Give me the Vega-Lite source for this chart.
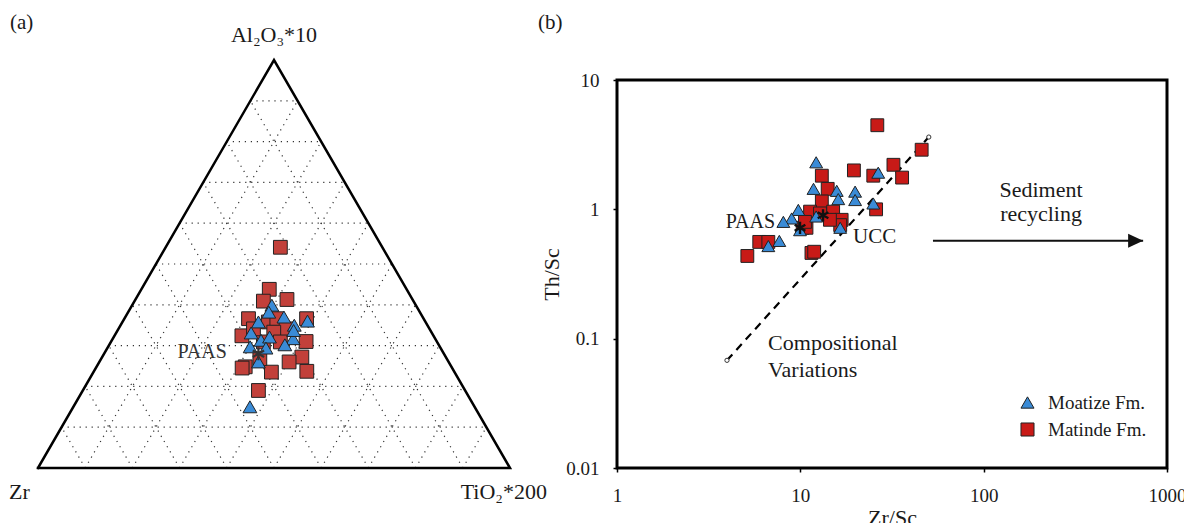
{
  "$schema": "https://vega.github.io/schema/vega-lite/v6.json",
  "padding": {"left": 0, "top": 10, "right": 0, "bottom": 0},
  "autosize": {"type": "pad"},
  "background": "white",
  "spacing": 69,
  "bounds": "flush",
  "config": {
    "view": {"stroke": null},
    "font": "Liberation Serif",
    "text": {"font": "Liberation Serif", "color": "#1a1a1a"},
    "legend": {"labelFont": "Liberation Serif", "labelFontSize": 19, "labelColor": "#1a1a1a", "symbolStrokeColor": "#222", "symbolStrokeWidth": 1, "rowPadding": 7, "labelOffset": 11, "padding": 0}
  },
  "datasets": {
    "grid": [
      {"x": 5, "y": 10, "xe": 95, "ye": 10}, {"x": 10, "y": 20, "xe": 90, "ye": 20}, {"x": 15, "y": 30, "xe": 85, "ye": 30},
      {"x": 20, "y": 40, "xe": 80, "ye": 40}, {"x": 25, "y": 50, "xe": 75, "ye": 50}, {"x": 30, "y": 60, "xe": 70, "ye": 60},
      {"x": 35, "y": 70, "xe": 65, "ye": 70}, {"x": 40, "y": 80, "xe": 60, "ye": 80}, {"x": 45, "y": 90, "xe": 55, "ye": 90},
      {"x": 10, "y": 0, "xe": 55, "ye": 90}, {"x": 20, "y": 0, "xe": 60, "ye": 80}, {"x": 30, "y": 0, "xe": 65, "ye": 70},
      {"x": 40, "y": 0, "xe": 70, "ye": 60}, {"x": 50, "y": 0, "xe": 75, "ye": 50}, {"x": 60, "y": 0, "xe": 80, "ye": 40},
      {"x": 70, "y": 0, "xe": 85, "ye": 30}, {"x": 80, "y": 0, "xe": 90, "ye": 20}, {"x": 90, "y": 0, "xe": 95, "ye": 10},
      {"x": 90, "y": 0, "xe": 45, "ye": 90}, {"x": 80, "y": 0, "xe": 40, "ye": 80}, {"x": 70, "y": 0, "xe": 35, "ye": 70},
      {"x": 60, "y": 0, "xe": 30, "ye": 60}, {"x": 50, "y": 0, "xe": 25, "ye": 50}, {"x": 40, "y": 0, "xe": 20, "ye": 40},
      {"x": 30, "y": 0, "xe": 15, "ye": 30}, {"x": 20, "y": 0, "xe": 10, "ye": 20}, {"x": 10, "y": 0, "xe": 5, "ye": 10}
    ],
    "outline": [
      {"x": 0, "y": 0, "i": 0}, {"x": 50, "y": 100, "i": 1}, {"x": 100, "y": 0, "i": 2}, {"x": 0, "y": 0, "i": 3}
    ],
    "tern": [
      {"fm": "Matinde Fm.", "al": 54.1, "ti": 24.3, "zr": 21.6},
      {"fm": "Matinde Fm.", "al": 43.8, "ti": 27.1, "zr": 29.1},
      {"fm": "Matinde Fm.", "al": 40.9, "ti": 27.3, "zr": 31.8},
      {"fm": "Matinde Fm.", "al": 41.3, "ti": 32.1, "zr": 26.6},
      {"fm": "Matinde Fm.", "al": 36.6, "ti": 26.3, "zr": 37.1},
      {"fm": "Matinde Fm.", "al": 36.6, "ti": 38.6, "zr": 24.8},
      {"fm": "Matinde Fm.", "al": 35.8, "ti": 30.9, "zr": 33.3},
      {"fm": "Matinde Fm.", "al": 36.6, "ti": 32.3, "zr": 31.1},
      {"fm": "Matinde Fm.", "al": 34.1, "ti": 35.5, "zr": 30.4},
      {"fm": "Matinde Fm.", "al": 32.4, "ti": 27.0, "zr": 40.6},
      {"fm": "Matinde Fm.", "al": 33.3, "ti": 33.3, "zr": 33.4},
      {"fm": "Matinde Fm.", "al": 31.0, "ti": 41.3, "zr": 27.7},
      {"fm": "Matinde Fm.", "al": 30.9, "ti": 32.3, "zr": 36.8},
      {"fm": "Matinde Fm.", "al": 27.2, "ti": 42.3, "zr": 30.5},
      {"fm": "Matinde Fm.", "al": 26.0, "ti": 40.2, "zr": 33.8},
      {"fm": "Matinde Fm.", "al": 23.7, "ti": 45.1, "zr": 31.2},
      {"fm": "Matinde Fm.", "al": 23.5, "ti": 37.7, "zr": 38.8},
      {"fm": "Matinde Fm.", "al": 24.8, "ti": 31.5, "zr": 43.7},
      {"fm": "Matinde Fm.", "al": 24.5, "ti": 31.0, "zr": 44.5},
      {"fm": "Matinde Fm.", "al": 19.0, "ti": 37.2, "zr": 43.8},
      {"fm": "Matinde Fm.", "al": 26.8, "ti": 33.6, "zr": 39.6},
      {"fm": "Matinde Fm.", "al": 30.9, "ti": 35.9, "zr": 33.2},
      {"fm": "Matinde Fm.", "al": 34.1, "ti": 28.6, "zr": 37.3},
      {"fm": "Moatize Fm.", "al": 39.9, "ti": 29.6, "zr": 30.5},
      {"fm": "Moatize Fm.", "al": 38.2, "ti": 29.8, "zr": 32.0},
      {"fm": "Moatize Fm.", "al": 37.0, "ti": 33.6, "zr": 29.4},
      {"fm": "Moatize Fm.", "al": 35.0, "ti": 36.8, "zr": 28.2},
      {"fm": "Moatize Fm.", "al": 36.0, "ti": 39.1, "zr": 24.9},
      {"fm": "Moatize Fm.", "al": 35.8, "ti": 28.8, "zr": 35.4},
      {"fm": "Moatize Fm.", "al": 33.1, "ti": 28.6, "zr": 38.3},
      {"fm": "Moatize Fm.", "al": 31.3, "ti": 31.6, "zr": 37.1},
      {"fm": "Moatize Fm.", "al": 32.1, "ti": 33.0, "zr": 34.9},
      {"fm": "Moatize Fm.", "al": 31.7, "ti": 38.2, "zr": 30.1},
      {"fm": "Moatize Fm.", "al": 30.2, "ti": 37.2, "zr": 32.6},
      {"fm": "Moatize Fm.", "al": 29.7, "ti": 30.1, "zr": 40.2},
      {"fm": "Moatize Fm.", "al": 29.4, "ti": 33.6, "zr": 37.0},
      {"fm": "Moatize Fm.", "al": 26.0, "ti": 33.7, "zr": 40.3},
      {"fm": "Moatize Fm.", "al": 15.0, "ti": 37.4, "zr": 47.6},
      {"fm": "Moatize Fm.", "al": 33.7, "ti": 37.3, "zr": 29.0}
    ],
    "ternRef": [{"name": "PAAS", "al": 28.0, "ti": 32.7, "zr": 39.3}],
    "labA_center": [
      {"t": "Al₂O₃*10", "x": 50.0, "y": 106.1},
      {"t": "TiO₂*200", "x": 98.7, "y": -5.9}
    ],
    "labA_left": [{"t": "Zr", "x": -6.14, "y": -5.9}],
    "labA_top": [{"t": "(a)", "x": -5.93, "y": 111.8}],
    "labA_right": [{"t": "PAAS", "x": 40.0, "y": 28.4}],
    "zrsc": [
      {"fm": "Matinde Fm.", "zrsc": 26.3, "thsc": 4.47},
      {"fm": "Matinde Fm.", "zrsc": 45.9, "thsc": 2.89},
      {"fm": "Matinde Fm.", "zrsc": 32.2, "thsc": 2.21},
      {"fm": "Matinde Fm.", "zrsc": 35.9, "thsc": 1.76},
      {"fm": "Matinde Fm.", "zrsc": 19.6, "thsc": 2.0},
      {"fm": "Matinde Fm.", "zrsc": 25.0, "thsc": 1.82},
      {"fm": "Matinde Fm.", "zrsc": 25.9, "thsc": 1.0},
      {"fm": "Matinde Fm.", "zrsc": 13.1, "thsc": 1.82},
      {"fm": "Matinde Fm.", "zrsc": 14.1, "thsc": 1.44},
      {"fm": "Matinde Fm.", "zrsc": 13.1, "thsc": 1.15},
      {"fm": "Matinde Fm.", "zrsc": 15.1, "thsc": 0.96},
      {"fm": "Matinde Fm.", "zrsc": 16.8, "thsc": 0.83},
      {"fm": "Matinde Fm.", "zrsc": 11.3, "thsc": 0.96},
      {"fm": "Matinde Fm.", "zrsc": 10.3, "thsc": 0.72},
      {"fm": "Matinde Fm.", "zrsc": 10.8, "thsc": 0.72},
      {"fm": "Matinde Fm.", "zrsc": 11.5, "thsc": 0.46},
      {"fm": "Matinde Fm.", "zrsc": 11.9, "thsc": 0.47},
      {"fm": "Matinde Fm.", "zrsc": 5.97, "thsc": 0.56},
      {"fm": "Matinde Fm.", "zrsc": 6.69, "thsc": 0.56},
      {"fm": "Matinde Fm.", "zrsc": 5.14, "thsc": 0.436},
      {"fm": "Matinde Fm.", "zrsc": 16.5, "thsc": 0.755},
      {"fm": "Matinde Fm.", "zrsc": 12.8, "thsc": 0.93},
      {"fm": "Matinde Fm.", "zrsc": 10.6, "thsc": 0.80},
      {"fm": "Matinde Fm.", "zrsc": 14.5, "thsc": 0.83},
      {"fm": "Moatize Fm.", "zrsc": 12.2, "thsc": 2.31},
      {"fm": "Moatize Fm.", "zrsc": 26.6, "thsc": 1.92},
      {"fm": "Moatize Fm.", "zrsc": 11.8, "thsc": 1.44},
      {"fm": "Moatize Fm.", "zrsc": 15.8, "thsc": 1.39},
      {"fm": "Moatize Fm.", "zrsc": 16.1, "thsc": 1.20},
      {"fm": "Moatize Fm.", "zrsc": 19.9, "thsc": 1.37},
      {"fm": "Moatize Fm.", "zrsc": 19.9, "thsc": 1.18},
      {"fm": "Moatize Fm.", "zrsc": 25.0, "thsc": 1.11},
      {"fm": "Moatize Fm.", "zrsc": 9.75, "thsc": 0.99},
      {"fm": "Moatize Fm.", "zrsc": 8.97, "thsc": 0.85},
      {"fm": "Moatize Fm.", "zrsc": 8.08, "thsc": 0.80},
      {"fm": "Moatize Fm.", "zrsc": 12.2, "thsc": 0.88},
      {"fm": "Moatize Fm.", "zrsc": 16.5, "thsc": 0.72},
      {"fm": "Moatize Fm.", "zrsc": 6.69, "thsc": 0.52},
      {"fm": "Moatize Fm.", "zrsc": 7.68, "thsc": 0.57},
      {"fm": "Moatize Fm.", "zrsc": 9.96, "thsc": 0.69}
    ],
    "refB": [
      {"name": "PAAS", "zrsc": 9.96, "thsc": 0.72},
      {"name": "UCC", "zrsc": 13.3, "thsc": 0.90}
    ],
    "dash": [
      {"zrsc": 3.98, "thsc": 0.068, "i": 0},
      {"zrsc": 50.2, "thsc": 3.62, "i": 1}
    ],
    "arrow": [
      {"zrsc": 52.9, "thsc": 0.571, "i": 0},
      {"zrsc": 741, "thsc": 0.571, "i": 1}
    ],
    "arrowTip": [{"zrsc": 741, "thsc": 0.571}],
    "labB_top": [{"t": "(b)", "zrsc": 0.371, "thsc": 33.6}],
    "labB_right": [{"t": "PAAS", "zrsc": 7.28, "thsc": 0.80}],
    "labB_left": [{"t": "UCC", "zrsc": 19.4, "thsc": 0.612}],
    "labB_center": [
      {"t": "Sediment", "zrsc": 205.6, "thsc": 1.247},
      {"t": "recycling", "zrsc": 205.6, "thsc": 0.813}
    ],
    "labB_comp": [
      {"t": "Compositional", "zrsc": 6.67, "thsc": 0.0819},
      {"t": "Variations", "zrsc": 6.67, "thsc": 0.0506}
    ]
  },
  "hconcat": [
    {
      "width": 548,
      "height": 388,
      "view": {"stroke": null},
      "layer": [
        {
          "data": {"name": "grid"},
          "mark": {"type": "rule", "strokeDash": [1.2, 4.8], "color": "#333", "strokeWidth": 1.2},
          "encoding": {
            "x": {"field": "x", "type": "quantitative", "scale": {"domain": [-8.05, 108.05], "nice": false, "zero": false}, "axis": null},
            "y": {"field": "y", "type": "quantitative", "scale": {"domain": [0, 95.1], "nice": false, "zero": false}, "axis": null},
            "x2": {"field": "xe"},
            "y2": {"field": "ye"}
          }
        },
        {
          "data": {"name": "outline"},
          "mark": {"type": "line", "color": "black", "strokeWidth": 2.5, "strokeJoin": "miter", "strokeCap": "square"},
          "encoding": {
            "x": {"field": "x", "type": "quantitative"},
            "y": {"field": "y", "type": "quantitative"},
            "order": {"field": "i", "type": "quantitative"}
          }
        },
        {
          "data": {"name": "tern"},
          "transform": [{"calculate": "datum.ti + datum.al / 2", "as": "px"}],
          "mark": {"type": "point", "filled": true, "size": 190, "stroke": "#222", "strokeWidth": 1, "opacity": 1},
          "encoding": {
            "x": {"field": "px", "type": "quantitative"},
            "y": {"field": "al", "type": "quantitative"},
            "shape": {"field": "fm", "type": "nominal", "scale": {"domain": ["Moatize Fm.", "Matinde Fm."], "range": ["triangle-up", "square"]}, "legend": null},
            "color": {"field": "fm", "type": "nominal", "scale": {"domain": ["Moatize Fm.", "Matinde Fm."], "range": ["#3a8bd6", "#c2403a"]}, "legend": null}
          }
        },
        {
          "data": {"name": "ternRef"},
          "transform": [{"calculate": "datum.ti + datum.al / 2", "as": "px"}],
          "mark": {"type": "point", "filled": false, "shape": "M0,-1L0,1M-0.87,-0.5L0.87,0.5M-0.87,0.5L0.87,-0.5", "size": 170, "stroke": "#333", "strokeWidth": 2.2, "opacity": 1},
          "encoding": {
            "x": {"field": "px", "type": "quantitative"},
            "y": {"field": "al", "type": "quantitative"}
          }
        },
        {
          "data": {"name": "labA_center"},
          "mark": {"type": "text", "fontSize": 22, "align": "center", "baseline": "middle"},
          "encoding": {"x": {"field": "x", "type": "quantitative"}, "y": {"field": "y", "type": "quantitative"}, "text": {"field": "t"}}
        },
        {
          "data": {"name": "labA_left"},
          "mark": {"type": "text", "fontSize": 22, "align": "left", "baseline": "middle"},
          "encoding": {"x": {"field": "x", "type": "quantitative"}, "y": {"field": "y", "type": "quantitative"}, "text": {"field": "t"}}
        },
        {
          "data": {"name": "labA_top"},
          "mark": {"type": "text", "fontSize": 21, "align": "left", "baseline": "top"},
          "encoding": {"x": {"field": "x", "type": "quantitative"}, "y": {"field": "y", "type": "quantitative"}, "text": {"field": "t"}}
        },
        {
          "data": {"name": "labA_right"},
          "mark": {"type": "text", "fontSize": 20, "align": "right", "baseline": "middle", "color": "#333"},
          "encoding": {"x": {"field": "x", "type": "quantitative"}, "y": {"field": "y", "type": "quantitative"}, "text": {"field": "t"}}
        }
      ]
    },
    {
      "width": 550,
      "height": 388,
      "view": {"stroke": "black", "strokeWidth": 3},
      "layer": [
        {
          "data": {"name": "dash"},
          "mark": {"type": "line", "color": "black", "strokeWidth": 2.2, "strokeDash": [8, 6]},
          "encoding": {
            "x": {"field": "zrsc", "type": "quantitative", "scale": {"type": "log", "domain": [1, 1000], "nice": false},
              "axis": {"title": "Zr/Sc", "values": [1, 10, 100, 1000], "format": "d", "grid": false, "domain": false, "ticks": true, "tickColor": "black", "tickSize": 4, "tickWidth": 1.5, "labelFont": "Liberation Serif", "labelFontSize": 19, "labelColor": "#1a1a1a", "labelPadding": 14, "labelFlush": false, "titleFont": "Liberation Serif", "titleFontSize": 22, "titleFontWeight": "normal", "titleColor": "#1a1a1a", "titlePadding": 2}},
            "y": {"field": "thsc", "type": "quantitative", "scale": {"type": "log", "domain": [0.01, 10], "nice": false},
              "axis": {"title": "Th/Sc", "values": [0.01, 0.1, 1, 10], "format": "~g", "grid": false, "domain": false, "ticks": true, "tickColor": "black", "tickSize": 4, "tickWidth": 1.5, "labelFont": "Liberation Serif", "labelFontSize": 19, "labelColor": "#1a1a1a", "labelPadding": 14, "labelFlush": false, "titleFont": "Liberation Serif", "titleFontSize": 22, "titleFontWeight": "normal", "titleColor": "#1a1a1a", "titlePadding": 2}},
            "order": {"field": "i", "type": "quantitative"}
          }
        },
        {
          "data": {"name": "dash"},
          "mark": {"type": "point", "shape": "circle", "filled": true, "fill": "white", "stroke": "#333", "strokeWidth": 1, "size": 18, "opacity": 1},
          "encoding": {"x": {"field": "zrsc", "type": "quantitative"}, "y": {"field": "thsc", "type": "quantitative"}}
        },
        {
          "data": {"name": "arrow"},
          "mark": {"type": "line", "color": "#111", "strokeWidth": 2},
          "encoding": {"x": {"field": "zrsc", "type": "quantitative"}, "y": {"field": "thsc", "type": "quantitative"}, "order": {"field": "i", "type": "quantitative"}}
        },
        {
          "data": {"name": "arrowTip"},
          "mark": {"type": "point", "shape": "M-2,-0.93L0,0L-2,0.93Z", "filled": true, "color": "#111", "size": 225, "opacity": 1},
          "encoding": {"x": {"field": "zrsc", "type": "quantitative"}, "y": {"field": "thsc", "type": "quantitative"}}
        },
        {
          "data": {"name": "zrsc"},
          "mark": {"type": "point", "filled": true, "size": 165, "stroke": "#222", "strokeWidth": 1, "opacity": 1},
          "encoding": {
            "x": {"field": "zrsc", "type": "quantitative"},
            "y": {"field": "thsc", "type": "quantitative"},
            "shape": {"field": "fm", "type": "nominal", "scale": {"domain": ["Moatize Fm.", "Matinde Fm."], "range": ["triangle-up", "square"]},
              "legend": {"orient": "none", "legendX": 401, "legendY": 313, "title": null, "symbolSize": 170}},
            "color": {"field": "fm", "type": "nominal", "scale": {"domain": ["Moatize Fm.", "Matinde Fm."], "range": ["#3a8bd6", "#c81a17"]},
              "legend": {"orient": "none", "legendX": 401, "legendY": 313, "title": null, "symbolSize": 170}}
          }
        },
        {
          "data": {"name": "refB"},
          "mark": {"type": "point", "filled": false, "shape": "M0,-1L0,1M-0.87,-0.5L0.87,0.5M-0.87,0.5L0.87,-0.5", "size": 150, "stroke": "#111", "strokeWidth": 2.4, "opacity": 1},
          "encoding": {"x": {"field": "zrsc", "type": "quantitative"}, "y": {"field": "thsc", "type": "quantitative"}}
        },
        {
          "data": {"name": "labB_top"},
          "mark": {"type": "text", "fontSize": 21, "align": "left", "baseline": "top"},
          "encoding": {"x": {"field": "zrsc", "type": "quantitative"}, "y": {"field": "thsc", "type": "quantitative"}, "text": {"field": "t"}}
        },
        {
          "data": {"name": "labB_right"},
          "mark": {"type": "text", "fontSize": 20, "align": "right", "baseline": "middle"},
          "encoding": {"x": {"field": "zrsc", "type": "quantitative"}, "y": {"field": "thsc", "type": "quantitative"}, "text": {"field": "t"}}
        },
        {
          "data": {"name": "labB_left"},
          "mark": {"type": "text", "fontSize": 21, "align": "left", "baseline": "middle"},
          "encoding": {"x": {"field": "zrsc", "type": "quantitative"}, "y": {"field": "thsc", "type": "quantitative"}, "text": {"field": "t"}}
        },
        {
          "data": {"name": "labB_center"},
          "mark": {"type": "text", "fontSize": 22, "align": "center", "baseline": "alphabetic"},
          "encoding": {"x": {"field": "zrsc", "type": "quantitative"}, "y": {"field": "thsc", "type": "quantitative"}, "text": {"field": "t"}}
        },
        {
          "data": {"name": "labB_comp"},
          "mark": {"type": "text", "fontSize": 22, "align": "left", "baseline": "alphabetic"},
          "encoding": {"x": {"field": "zrsc", "type": "quantitative"}, "y": {"field": "thsc", "type": "quantitative"}, "text": {"field": "t"}}
        }
      ]
    }
  ],
  "resolve": {
    "scale": {"x": "independent", "y": "independent", "color": "independent", "shape": "independent"},
    "legend": {"color": "independent", "shape": "independent"}
  }
}
